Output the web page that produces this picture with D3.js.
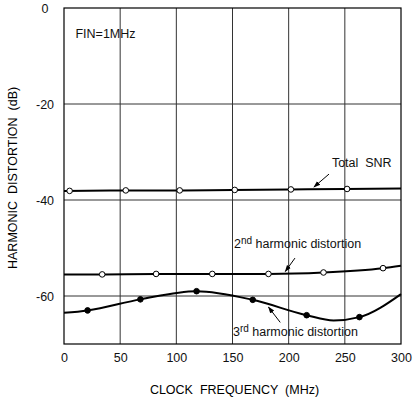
<!DOCTYPE html>
<html>
<head>
<meta charset="utf-8">
<script src="https://cdn.jsdelivr.net/npm/d3@7"></script>
<style>
  body { margin: 0; background: #fff; }
  svg { display: block; font-family: "Liberation Sans", Arial, sans-serif; }
  .axis text { font-size: 12.5px; fill: #111; }
  .grid line { stroke: #333; stroke-width: 1; }
</style>
</head>
<body>
<svg width="414" height="401"></svg>
<script>
// tick values
var xTicks = [0, 50, 100, 150, 200, 250, 300];
var yTicks = [0, -20, -40, -60];

// Total SNR
var snrFreq = [0, 50, 100, 150, 200, 250, 300];
var snrDb = [-38.1, -38.0, -38.0, -37.9, -37.8, -37.7, -37.6];
var snrMarkFreq = [5, 55, 103, 152, 202, 252];
var snrMarkDb = [-38.1, -38.0, -38.0, -37.9, -37.8, -37.7];

// 2nd harmonic distortion
var hd2Freq = [0, 34, 82, 132, 182, 231, 284, 300];
var hd2Db = [-55.5, -55.5, -55.4, -55.4, -55.4, -55.1, -54.2, -53.7];
var hd2MarkFreq = [34, 82, 132, 182, 231, 284];
var hd2MarkDb = [-55.5, -55.4, -55.4, -55.4, -55.1, -54.2];

// 3rd harmonic distortion
var hd3Freq = [0, 21, 68, 118, 168, 216, 240, 263, 300];
var hd3Db = [-63.5, -63.0, -60.7, -59.0, -60.8, -64.0, -65.1, -64.4, -59.6];
var hd3MarkFreq = [21, 68, 118, 168, 216, 263];
var hd3MarkDb = [-63.0, -60.7, -59.0, -60.8, -64.0, -64.4];

var svg = d3.select("svg"),
    margin = {top: 8, right: 13, bottom: 57, left: 64},
    width = +svg.attr("width") - margin.left - margin.right,
    height = +svg.attr("height") - margin.top - margin.bottom,
    g = svg.append("g").attr("transform", "translate(" + margin.left + "," + margin.top + ")");

var x = d3.scaleLinear().domain([0, 300]).range([0, width]),
    y = d3.scaleLinear().domain([-70, 0]).range([height, 0]);

svg.append("defs").append("marker")
    .attr("id", "arrow")
    .attr("viewBox", "0 0 10 10")
    .attr("refX", 9).attr("refY", 5)
    .attr("markerWidth", 7).attr("markerHeight", 7)
    .attr("orient", "auto")
  .append("path")
    .attr("d", "M0,1.5L10,5L0,8.5Z")
    .attr("fill", "#000");

// grid
g.append("g").attr("class", "grid")
  .selectAll("line")
  .data(xTicks.slice(1, -1))
  .enter().append("line")
    .attr("x1", x).attr("x2", x)
    .attr("y1", 0).attr("y2", height);

g.append("g").attr("class", "grid")
  .selectAll("line")
  .data(yTicks.slice(1))
  .enter().append("line")
    .attr("y1", y).attr("y2", y)
    .attr("x1", 0).attr("x2", width);

g.append("rect")
    .attr("width", width)
    .attr("height", height)
    .attr("fill", "none")
    .attr("stroke", "#000")
    .attr("stroke-width", 1.2);

// axes
g.append("g")
    .attr("class", "axis")
    .attr("transform", "translate(0," + height + ")")
    .call(d3.axisBottom(x).tickValues(xTicks).tickSize(0).tickPadding(9))
    .call(function(s) { s.select(".domain").remove(); })
    .selectAll("text").attr("dy", "0.71em");

g.append("g")
    .attr("class", "axis")
    .call(d3.axisLeft(y).tickValues(yTicks).tickSize(0).tickFormat(function(d) { return String(d); }))
    .call(function(s) { s.select(".domain").remove(); })
    .selectAll("text")
      .attr("text-anchor", "middle")
      .attr("x", -19);

svg.append("text")
    .attr("x", margin.left + x(150) + 2)
    .attr("y", 394)
    .attr("text-anchor", "middle")
    .style("font-size", "12.5px")
    .style("white-space", "pre")
    .text("CLOCK  FREQUENCY  (MHz)");

svg.append("text")
    .attr("transform", "translate(17," + (margin.top + y(-35.4)) + ") rotate(-90)")
    .attr("text-anchor", "middle")
    .style("font-size", "12.5px")
    .style("white-space", "pre")
    .text("HARMONIC  DISTORTION  (dB)");

// lines
var line = d3.line()
    .curve(d3.curveMonotoneX)
    .x(function(d) { return x(d[0]); })
    .y(function(d) { return y(d[1]); });

var series = [
  {freq: snrFreq, db: snrDb, mf: snrMarkFreq, md: snrMarkDb, fill: "#fff"},
  {freq: hd2Freq, db: hd2Db, mf: hd2MarkFreq, md: hd2MarkDb, fill: "#fff"},
  {freq: hd3Freq, db: hd3Db, mf: hd3MarkFreq, md: hd3MarkDb, fill: "#000"}
];

var s = g.selectAll(".series")
  .data(series)
  .enter().append("g")
    .attr("class", "series");

s.append("path")
    .attr("fill", "none")
    .attr("stroke", "#000")
    .attr("stroke-width", 2)
    .attr("d", function(d) { return line(d3.zip(d.freq, d.db)); });

s.selectAll("circle")
  .data(function(d) { return d3.zip(d.mf, d.md).map(function(p) { return {p: p, fill: d.fill}; }); })
  .enter().append("circle")
    .attr("cx", function(d) { return x(d.p[0]); })
    .attr("cy", function(d) { return y(d.p[1]); })
    .attr("r", 2.8)
    .attr("fill", function(d) { return d.fill; })
    .attr("stroke", "#000")
    .attr("stroke-width", 1);

// annotations
var notes = [
  {text: "FIN=1MHz", sup: "", rest: "", tx: 10.2, ty: -6.2},
  {text: "Total  SNR", sup: "", rest: "", tx: 238.5, ty: -33.1, ax: [235.9, -34.6, 222.5, -37.3]},
  {text: "2n", sup: "d", rest: " harmonic distortion", tx: 151.3, ty: -50, ax: [205.6, -52.1, 197, -54.9]},
  {text: "3r", sup: "d", rest: " harmonic distortion", tx: 150.4, ty: -68.3, ax: [192.5, -65.5, 182, -62.3]}
];

var n = g.selectAll(".note")
  .data(notes)
  .enter().append("g")
    .attr("class", "note");

var t = n.append("text")
    .attr("x", function(d) { return x(d.tx); })
    .attr("y", function(d) { return y(d.ty); })
    .style("font-size", "12.5px")
    .style("white-space", "pre")
    .attr("fill", "#111");

t.append("tspan").text(function(d) { return d.sup ? d.text.charAt(0) : d.text; });
t.filter(function(d) { return d.sup; }).each(function(d) {
  var el = d3.select(this);
  el.append("tspan").attr("dy", "-4").style("font-size", "10px").text(d.text.charAt(1) + d.sup);
  el.append("tspan").attr("dy", "4").text(d.rest);
});

n.filter(function(d) { return d.ax; }).append("line")
    .attr("x1", function(d) { return x(d.ax[0]); })
    .attr("y1", function(d) { return y(d.ax[1]); })
    .attr("x2", function(d) { return x(d.ax[2]); })
    .attr("y2", function(d) { return y(d.ax[3]); })
    .attr("stroke", "#000")
    .attr("stroke-width", 1)
    .attr("marker-end", "url(#arrow)");
</script>
</body>
</html>
